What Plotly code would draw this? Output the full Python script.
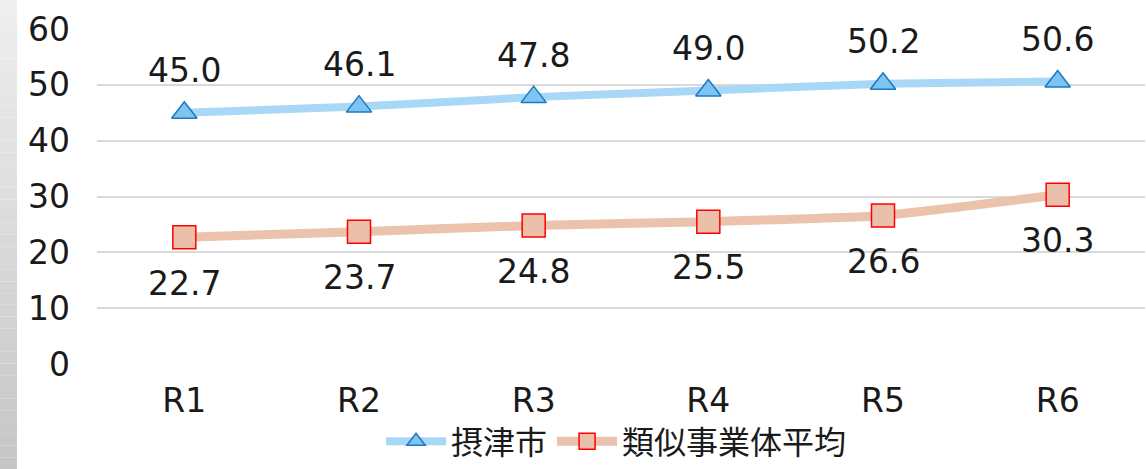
import plotly.graph_objects as go

categories = ["R1", "R2", "R3", "R4", "R5", "R6"]
settsu = [45.0, 46.1, 47.8, 49.0, 50.2, 50.6]
similar_avg = [22.7, 23.7, 24.8, 25.5, 26.6, 30.3]
series_names = ["摂津市", "類似事業体平均"]
y_ticks = [0, 10, 20, 30, 40, 50, 60]

FONT = "DejaVu Sans, Noto Sans CJK JP"
FS = 33

fig = go.Figure()
fig.add_trace(go.Scatter(
    x=categories, y=settsu, name=series_names[0],
    mode="lines+markers",
    line=dict(color="#a9d8f6", width=8, shape="spline", smoothing=0.5),
    marker=dict(symbol="triangle-up", size=22, color="#7ec4f0",
                line=dict(color="#1a7ac4", width=1.5)),
))
fig.add_trace(go.Scatter(
    x=categories, y=similar_avg, name=series_names[1],
    mode="lines+markers",
    line=dict(color="#ebc2ac", width=9, shape="spline", smoothing=0.5),
    marker=dict(symbol="square", size=23, color="#eac0ab",
                line=dict(color="#ff0000", width=1.5)),
))

annotations = []
for c, v in zip(categories, settsu):
    annotations.append(dict(x=c, y=v, text=f"{v:.1f}", showarrow=False,
                            yshift=42, font=dict(size=FS, color="#1a1a1a", family=FONT)))
for c, v in zip(categories, similar_avg):
    annotations.append(dict(x=c, y=v, text=f"{v:.1f}", showarrow=False,
                            yshift=-46, font=dict(size=FS, color="#1a1a1a", family=FONT)))

# left grey gradient strip
shapes = []
n = 40
for i in range(n):
    t = i / (n - 1)
    g = int(round(0xee - (0xee - 0xc6) * t))
    col = f"rgb({g},{g},{g})"
    shapes.append(dict(type="rect", xref="paper", yref="paper",
                       x0=-97 / 1048, x1=-80 / 1048,
                       y0=1 + 29 / 335 - (i + 1) * (469 / 335) / n,
                       y1=1 + 29 / 335 - i * (469 / 335) / n,
                       line=dict(width=0), fillcolor=col, layer="below"))

fig.update_layout(
    width=1146, height=469,
    margin=dict(l=97, r=1, t=29, b=105, autoexpand=False),
    paper_bgcolor="white", plot_bgcolor="white",
    font=dict(family=FONT, size=FS, color="#1a1a1a"),
    showlegend=True,
    legend=dict(orientation="h", x=0.538, xanchor="center", xref="container",
                y=-0.014, yanchor="bottom", yref="container",
                font=dict(size=32, family=FONT), itemwidth=60,
                bgcolor="rgba(0,0,0,0)"),
    xaxis=dict(showgrid=False, showline=False, zeroline=False, ticks="",
               tickfont=dict(size=FS), range=[-0.5, 5.5], ticklabelstandoff=14),
    yaxis=dict(range=[0, 60], tickvals=y_ticks, showgrid=True,
               gridcolor="#d9d9d9", gridwidth=1.5, zeroline=False,
               showline=False, ticks="", tickfont=dict(size=FS),
               ticklabelstandoff=26),
    shapes=shapes,
    annotations=annotations,
)

fig.write_html("out.html", config={"displayModeBar": False},
               post_script="document.body.style.margin='0';document.body.style.overflow='hidden';")
